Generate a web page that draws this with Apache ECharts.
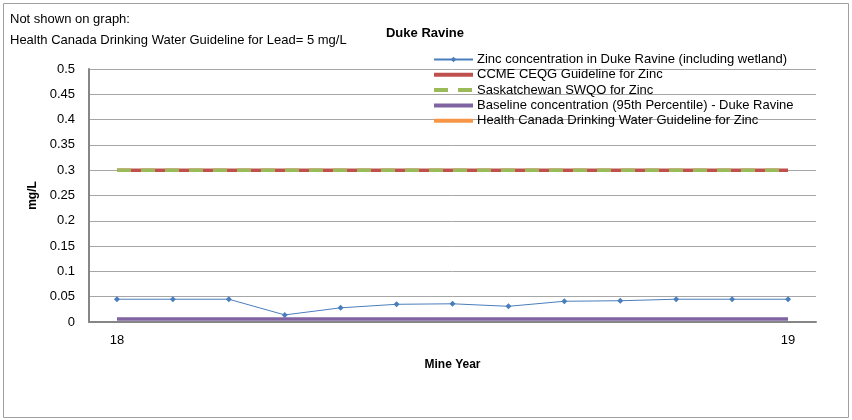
<!DOCTYPE html>
<html><head><meta charset="utf-8">
<script src="https://cdn.jsdelivr.net/npm/echarts@6/dist/echarts.min.js"></script>
<style>html,body{margin:0;padding:0;background:#fff}#c{width:852px;height:420px}</style>
</head><body><div id="c"></div>
<script>
const categories = ["18","","","","","","","","","","","","19"];
const zinc = [0.045,0.045,0.045,0.014,0.028,0.035,0.036,0.031,0.041,0.042,0.045,0.045,0.045];
const ccme = [0.3,0.3,0.3,0.3,0.3,0.3,0.3,0.3,0.3,0.3,0.3,0.3,0.3];
const swqo = [0.3,0.3,0.3,0.3,0.3,0.3,0.3,0.3,0.3,0.3,0.3,0.3,0.3];
const baseline = [0.006,0.006,0.006,0.006,0.006,0.006,0.006,0.006,0.006,0.006,0.006,0.006,0.006];
const hcZinc = [5,5,5,5,5,5,5,5,5,5,5,5,5];
const seriesNames = [
  "Zinc concentration in Duke Ravine (including wetland)",
  "CCME CEQG Guideline for Zinc",
  "Saskatchewan SWQO for Zinc",
  "Baseline concentration (95th Percentile) - Duke Ravine",
  "Health Canada Drinking Water Guideline for Zinc"
];
const FONT = "Liberation Sans";
const chart = echarts.init(document.getElementById('c'), null, {renderer:'canvas'});
chart.setOption({
  animation:false,
  textStyle:{fontFamily:FONT},
  graphic:[
    {type:'rect', shape:{x:3.5,y:3.5,width:845,height:414}, style:{fill:null, stroke:'#a0a0a0', lineWidth:1}},
    {type:'text', left:10, top:13, style:{text:'Not shown on graph:', font:'13px '+FONT, fill:'#000'}},
    {type:'text', left:10, top:34, style:{text:'Health Canada Drinking Water Guideline for Lead= 5 mg/L', font:'13px '+FONT, fill:'#000'}}
  ],
  title:{text:'Duke Ravine', left:420, top:22, textAlign:'center',
    textStyle:{fontFamily:FONT, fontSize:13, fontWeight:'bold', color:'#000'}},
  legend:{
    orient:'vertical', left:427, top:48, itemWidth:39, itemHeight:7, itemGap:2.3,
    data:[
      {name:seriesNames[0]},
      {name:seriesNames[1], itemStyle:{opacity:0}, lineStyle:{width:4}},
      {name:seriesNames[2], itemStyle:{opacity:0}, lineStyle:{width:4}},
      {name:seriesNames[3], itemStyle:{opacity:0}, lineStyle:{width:4}},
      {name:seriesNames[4], itemStyle:{opacity:0}, lineStyle:{width:4}}
    ],
    textStyle:{fontFamily:FONT, fontSize:13, color:'#000', padding:[0,0,0,-1]},
    selectedMode:false
  },
  grid:{left:89, right:36, top:69, bottom:98, containLabel:false},
  xAxis:{
    type:'category', data:categories, boundaryGap:true,
    name:'Mine Year', nameLocation:'middle', nameGap:37,
    nameTextStyle:{fontFamily:FONT, fontSize:12, fontWeight:'bold', color:'#000'},
    axisLine:{lineStyle:{color:'#868686', width:2}},
    axisTick:{show:false},
    axisLabel:{interval:0, margin:12, fontFamily:FONT, fontSize:13, color:'#000'},
    splitLine:{show:false}
  },
  yAxis:{
    type:'value', min:0, max:0.5, interval:0.05,
    name:'mg/L', nameLocation:'middle', nameGap:48, nameRotate:90,
    nameTextStyle:{fontFamily:FONT, fontSize:12, fontWeight:'bold', color:'#000'},
    axisLine:{show:true, lineStyle:{color:'#868686', width:2}},
    axisTick:{show:false},
    axisLabel:{margin:14, fontFamily:FONT, fontSize:13, color:'#000',
      formatter:function(v){return String(Math.round(v*100)/100);}},
    splitLine:{lineStyle:{color:'#a6a6a6', width:1}}
  },
  series:[
    {name:seriesNames[0], type:'line', data:zinc, symbol:'diamond', symbolSize:6,
     itemStyle:{color:'#4A7EBB'}, lineStyle:{color:'#4A7EBB', width:1}, z:2},
    {name:seriesNames[1], type:'line', data:ccme, symbol:'none',
     itemStyle:{color:'#C0504D'}, lineStyle:{color:'#C0504D', width:3.5}, z:3},
    {name:seriesNames[2], type:'line', data:swqo, symbol:'none',
     itemStyle:{color:'#9BBB59'}, lineStyle:{color:'#9BBB59', width:3.5, type:[14,10]}, z:4},
    {name:seriesNames[3], type:'line', data:baseline, symbol:'none',
     itemStyle:{color:'#8064A2'}, lineStyle:{color:'#8064A2', width:3.5}, z:5},
    {name:seriesNames[4], type:'line', data:hcZinc, symbol:'none', clip:true,
     itemStyle:{color:'#F79646'}, lineStyle:{color:'#F79646', width:3.5}, z:6}
  ]
});
</script></body></html>
